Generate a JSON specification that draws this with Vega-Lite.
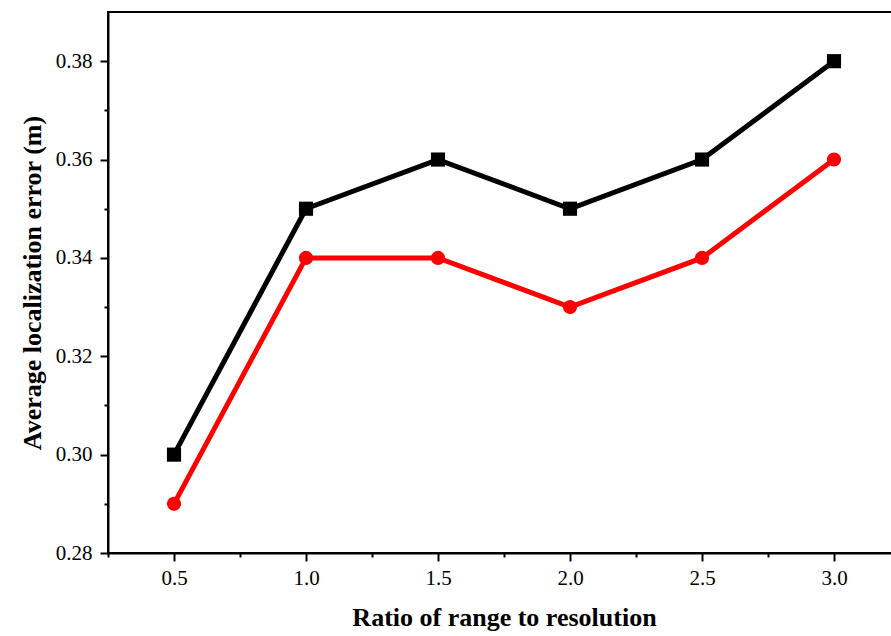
{
  "$schema": "https://vega.github.io/schema/vega-lite/v6.json",
  "autosize": "none",
  "padding": {"left": 108, "top": 12, "right": 0, "bottom": 83},
  "width": 792,
  "height": 541,
  "background": "white",
  "config": {
    "view": {"stroke": "black", "strokeWidth": 2},
    "font": "Liberation Serif"
  },
  "data": {"values": [
    {"ratio": 0.5, "error": 0.30, "series": "Single mobile anchor"},
    {"ratio": 1.0, "error": 0.35, "series": "Single mobile anchor"},
    {"ratio": 1.5, "error": 0.36, "series": "Single mobile anchor"},
    {"ratio": 2.0, "error": 0.35, "series": "Single mobile anchor"},
    {"ratio": 2.5, "error": 0.36, "series": "Single mobile anchor"},
    {"ratio": 3.0, "error": 0.38, "series": "Single mobile anchor"},
    {"ratio": 0.5, "error": 0.29, "series": "Dual mobile anchor"},
    {"ratio": 1.0, "error": 0.34, "series": "Dual mobile anchor"},
    {"ratio": 1.5, "error": 0.34, "series": "Dual mobile anchor"},
    {"ratio": 2.0, "error": 0.33, "series": "Dual mobile anchor"},
    {"ratio": 2.5, "error": 0.34, "series": "Dual mobile anchor"},
    {"ratio": 3.0, "error": 0.36, "series": "Dual mobile anchor"}
  ]},
  "resolve": {"axis": {"x": "independent", "y": "independent"}},
  "layer": [
    {
      "encoding": {
        "x": {
          "field": "ratio", "type": "quantitative",
          "scale": {"domain": [0.25, 3.25], "nice": false, "zero": false},
          "axis": {
            "orient": "bottom",
            "title": "Ratio of range to resolution",
            "values": [0.5, 1.0, 1.5, 2.0, 2.5, 3.0],
            "format": ".1f",
            "tickSize": 8,
            "grid": false,
            "domainColor": "black", "domainWidth": 2,
            "tickColor": "black", "tickWidth": 2,
            "labelFont": "Liberation Serif", "labelFontSize": 21, "labelColor": "black",
            "labelPadding": 6,
            "titleFont": "Liberation Serif", "titleFontSize": 26, "titleFontWeight": "bold", "titleColor": "black",
            "titlePadding": 16,
            "encode": {"labels": {"update": {"fontSize": {"value": 21}, "fill": {"value": "black"}}}}
          }
        },
        "y": {
          "field": "error", "type": "quantitative",
          "scale": {"domain": [0.28, 0.39], "nice": false, "zero": false},
          "axis": {
            "orient": "left",
            "title": "Average localization error (m)",
            "values": [0.28, 0.30, 0.32, 0.34, 0.36, 0.38],
            "format": ".2f",
            "tickSize": 8,
            "grid": false,
            "domainColor": "black", "domainWidth": 2,
            "tickColor": "black", "tickWidth": 2,
            "labelFont": "Liberation Serif", "labelFontSize": 21, "labelColor": "black",
            "labelPadding": 8,
            "titleFont": "Liberation Serif", "titleFontSize": 26, "titleFontWeight": "bold", "titleColor": "black",
            "titlePadding": 10,
            "encode": {"labels": {"update": {"fontSize": {"value": 21}, "fill": {"value": "black"}}}}
          }
        }
      },
      "layer": [
        {
          "mark": {"type": "line", "strokeWidth": 5},
          "encoding": {
            "stroke": {
              "field": "series", "type": "nominal",
              "scale": {"domain": ["Single mobile anchor", "Dual mobile anchor"], "range": ["#000000", "#ff0000"]},
              "legend": null
            }
          }
        },
        {
          "mark": {"type": "point", "filled": true, "opacity": 1, "size": 200},
          "encoding": {
            "color": {
              "field": "series", "type": "nominal",
              "scale": {"domain": ["Single mobile anchor", "Dual mobile anchor"], "range": ["#000000", "#ff0000"]},
              "legend": {
                "title": null,
                "orient": "bottom-right",
                "offset": 36,
                "strokeColor": "black",
                "strokeWidth": 1,
                "fillColor": "white",
                "padding": 4,
                "symbolSize": 200,
                "rowPadding": 8,
                "labelOffset": 30,
                "labelFont": "Liberation Serif",
                "labelFontSize": 23,
                "labelColor": "black",
                "labelLimit": 400
              }
            },
            "shape": {
              "field": "series", "type": "nominal",
              "scale": {"domain": ["Single mobile anchor", "Dual mobile anchor"], "range": ["square", "circle"]}
            }
          }
        }
      ]
    },
    {
      "transform": [{"filter": "datum.ratio > 100"}],
      "mark": {"type": "point"},
      "encoding": {
        "x": {
          "field": "ratio", "type": "quantitative",
          "axis": {
            "orient": "bottom", "title": null, "labels": false, "domain": false, "grid": false,
            "values": [0.25, 0.75, 1.25, 1.75, 2.25, 2.75],
            "tickSize": 4, "tickColor": "black", "tickWidth": 2
          }
        },
        "y": {
          "field": "error", "type": "quantitative",
          "axis": {
            "orient": "left", "title": null, "labels": false, "domain": false, "grid": false,
            "values": [0.29, 0.31, 0.33, 0.35, 0.37],
            "tickSize": 4, "tickColor": "black", "tickWidth": 2
          }
        }
      }
    }
  ]
}
